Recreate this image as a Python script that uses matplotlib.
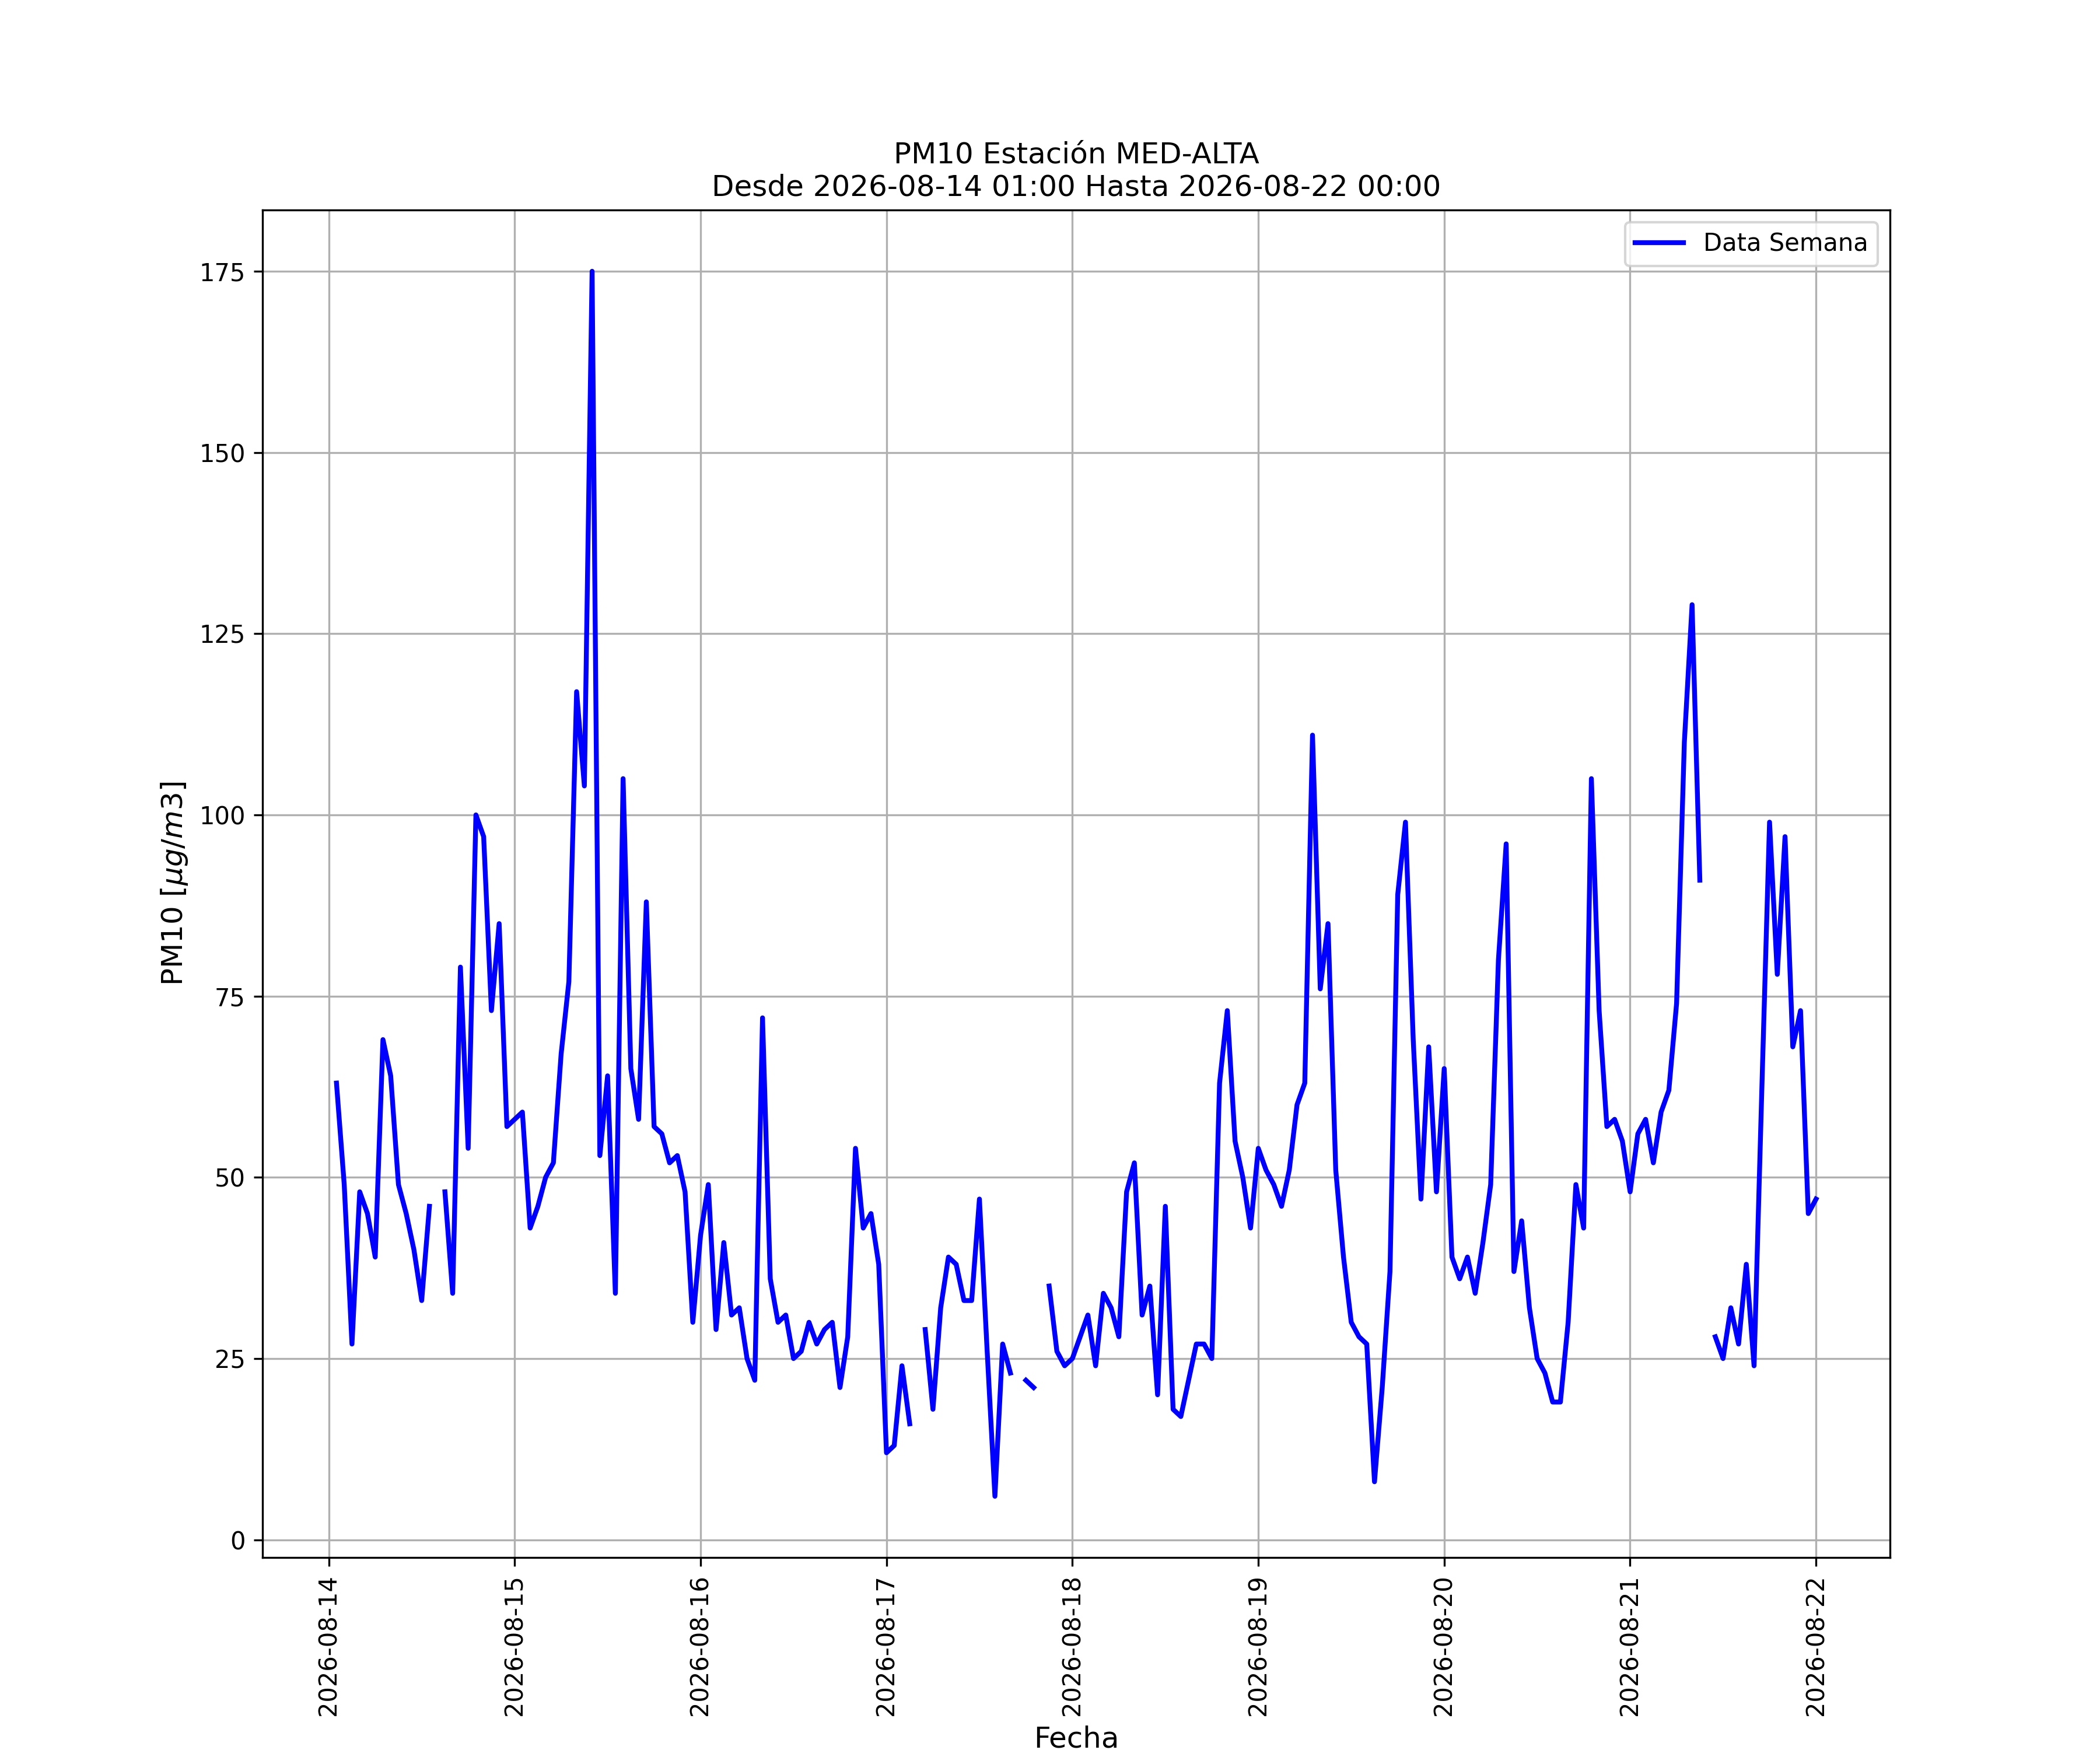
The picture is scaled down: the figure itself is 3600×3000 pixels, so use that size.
import numpy as np
import pandas as pd
import matplotlib
matplotlib.use("Agg")
import matplotlib.pyplot as plt
import matplotlib.dates as mdates

nan = np.nan

# Hourly PM10 values, one list per day (01:00 .. 24:00)
pm10_d14 = [63, 49, 27, 48, 45, 39, 69, 64, 49, 45, 40, 33,
            46, nan, 48, 34, 79, 54, 100, 97, 73, 85, 57, 58]
pm10_d15 = [59, 43, 46, 50, 52, 67, 77, 117, 104, 175, 53, 64,
            34, 105, 65, 58, 88, 57, 56, 52, 53, 48, 30, 42]
pm10_d16 = [49, 29, 41, 31, 32, 25, 22, 72, 36, 30, 31, 25,
            26, 30, 27, 29, 30, 21, 28, 54, 43, 45, 38, 12]
pm10_d17 = [13, 24, 16, nan, 29, 18, 32, 39, 38, 33, 33, 47,
            26, 6, 27, 23, nan, 22, 21, nan, 35, 26, 24, 25]
pm10_d18 = [28, 31, 24, 34, 32, 28, 48, 52, 31, 35, 20, 46,
            18, 17, 22, 27, 27, 25, 63, 73, 55, 50, 43, 54]
pm10_d19 = [51, 49, 46, 51, 60, 63, 111, 76, 85, 51, 39, 30,
            28, 27, 8, 21, 37, 89, 99, 69, 47, 68, 48, 65]
pm10_d20 = [39, 36, 39, 34, 41, 49, 80, 96, 37, 44, 32, 25,
            23, 19, 19, 30, 49, 43, 105, 73, 57, 58, 55, 48]
pm10_d21 = [56, 58, 52, 59, 62, 74, 110, 129, 91, nan, 28, 25,
            32, 27, 38, 24, 62, 99, 78, 97, 68, 73, 45, 47]

ESTACION = "MED-ALTA"
INICIO = "2026-08-14 01:00"
FIN = "2026-08-22 00:00"

pm10 = pm10_d14 + pm10_d15 + pm10_d16 + pm10_d17 + pm10_d18 + pm10_d19 + pm10_d20 + pm10_d21
fechas = pd.date_range(INICIO, periods=len(pm10), freq="h")

fig, ax = plt.subplots(figsize=(12, 10))

ax.plot(fechas, pm10, color="blue", linewidth=2, label="Data Semana")

ax.set_title(f"PM10 Estación {ESTACION}\nDesde {INICIO} Hasta {FIN}", fontsize=12)
ax.set_xlabel("Fecha", fontsize=12)
ax.set_ylabel(r"PM10 [$\mu g/m3$]", fontsize=12)

ax.xaxis.set_major_locator(mdates.DayLocator())
ax.xaxis.set_major_formatter(mdates.DateFormatter("%Y-%m-%d"))
plt.setp(ax.get_xticklabels(), rotation=90)

ax.grid(True)
ax.legend(loc="upper right")

fig.savefig("out.png", dpi=300)
